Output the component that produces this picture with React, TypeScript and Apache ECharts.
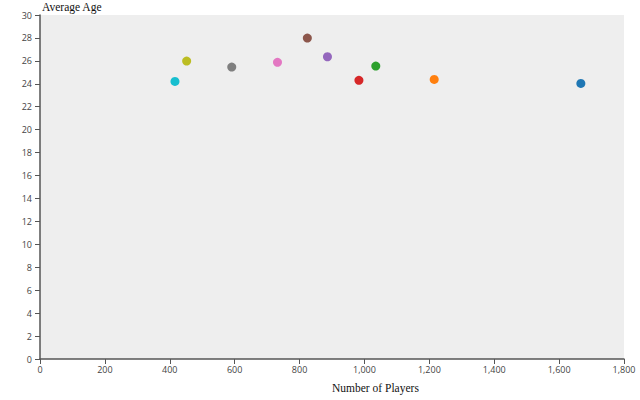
import React, { useEffect, useRef } from "react";
import * as echarts from "echarts";

const players = [1667, 1215, 1035, 983, 886, 824, 732, 591, 452, 416];
const ages = [24.03, 24.38, 25.55, 24.3, 26.36, 27.99, 25.87, 25.46, 25.98, 24.21];
const colors = ["#1f77b4", "#ff7f0e", "#2ca02c", "#d62728", "#9467bd", "#8c564b", "#e377c2", "#7f7f7f", "#bcbd22", "#17becf"];

export default function App() {
  const ref = useRef<HTMLDivElement>(null);
  useEffect(() => {
    document.body.style.margin = "0";
    const chart = echarts.init(ref.current!, null, { renderer: "svg" });
    const axisLine = { show: true, lineStyle: { color: "#555", width: 1.5 } };
    chart.setOption({
      animation: false,
      grid: {
        left: 40,
        right: 16,
        top: 15,
        bottom: 41,
        show: true,
        backgroundColor: "#eeeeee",
        borderWidth: 0,
        outerBoundsMode: "none",
        containLabel: false,
      },
      xAxis: {
        type: "value",
        min: 0,
        max: 1800,
        interval: 200,
        name: "Number of Players",
        nameLocation: "middle",
        nameGap: 29,
        nameTextStyle: { fontFamily: "Liberation Serif", fontSize: 11.5, color: "#111", align: "left", verticalAlign: "middle" },
        axisLine,
        axisTick: { show: true, length: 5, lineStyle: { color: "#555" } },
        axisLabel: {
          fontFamily: "Open Sans",
          fontSize: 9,
          color: "#444",
          margin: 6,
          formatter: (v: number) => v.toLocaleString("en-US"),
        },
        splitLine: { show: false },
      },
      yAxis: {
        type: "value",
        min: 0,
        max: 30,
        interval: 2,
        name: "Average Age",
        nameLocation: "end",
        nameGap: 2,
        nameTextStyle: { fontFamily: "Liberation Serif", fontSize: 11.5, color: "#111", align: "left", padding: [0, 0, 0, 2] },
        axisLine,
        axisTick: { show: true, length: 5, lineStyle: { color: "#555" } },
        axisLabel: { fontFamily: "Open Sans", fontSize: 9, color: "#444", margin: 8 },
        splitLine: { show: false },
      },
      series: [
        {
          type: "scatter",
          symbolSize: 9,
          itemStyle: { opacity: 1 },
          data: players.map((p, i) => ({ value: [p, ages[i]], itemStyle: { color: colors[i], opacity: 1 } })),
        },
      ],
    });
    return () => chart.dispose();
  }, []);
  return <div ref={ref} style={{ width: 640, height: 400 }} />;
}
